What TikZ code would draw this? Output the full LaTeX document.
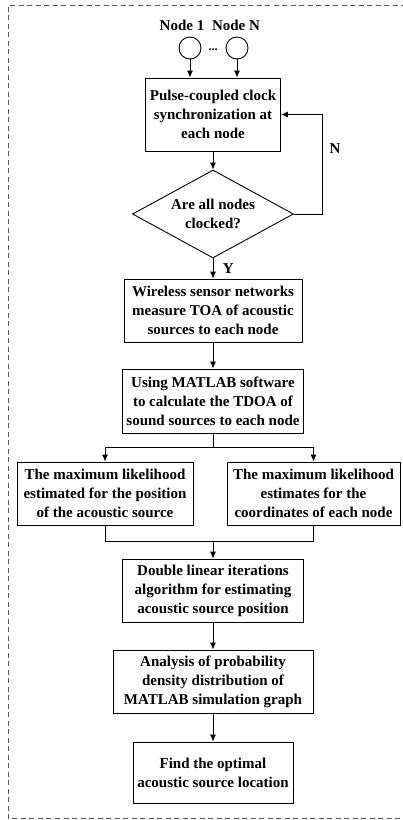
\documentclass[tikz,border=0pt]{standalone}
\usepackage{fontspec}
\setmainfont{Liberation Serif}
\usetikzlibrary{arrows,arrows.meta,shapes.geometric}
\tikzset{
    block/.style = {draw, rectangle, align=center, inner sep=2pt,
        minimum height=63pt},
    decision/.style = {draw, diamond, aspect=1.83, align=center, inner sep=0pt,
        minimum width=161pt, minimum height=88pt},
    sensor/.style = {draw, circle, minimum size=22pt, inner sep=0pt},
    input/.style = {coordinate},
    frame/.style = {draw=black!65, line width=0.8pt, dash pattern=on 5pt off 3.5pt}
}
\begin{document}
\begin{tikzpicture}[x=1pt, y=-1pt, >={Latex[length=7pt,width=6pt]}, line width=0.9pt,
    every node/.style={font=\fontsize{15}{19}\selectfont\bfseries}]
        \useasboundingbox (0,0) rectangle (403,820);
        \draw [frame] (440,5) -- (8,5) -- (8,818) -- (440,818);
        % sensor nodes on top
        \node [sensor] (sen1) at (190,48) {};
        \node [sensor] (senN) at (237,48) {};
        \node (lab1) at (182,25) {Node 1};
        \node (labN) at (236,25) {Node N};
        \node [anchor=base, font=\fontsize{12}{12}\selectfont\bfseries] (dots) at (213,50) {...};
        \node [block, minimum width=135pt, minimum height=73pt] (sync) at (213,114.5) {Pulse-coupled clock\\synchronization at\\each node};
        \foreach \s in {sen1,senN}{
            \draw [draw,->] (\s) -- (\s |- sync.north);
        }
        \node [decision, below of=sync, node distance=99.5pt] (check) {Are all nodes\\clocked?};
        \node [block, below of=check, node distance=96.5pt, minimum width=178pt] (toa) {Wireless sensor networks\\measure TOA of acoustic\\sources to each node};
        \node [block, below of=toa, node distance=90.5pt, minimum width=181pt, minimum height=64pt] (tdoa) {Using MATLAB software\\to calculate the TDOA of\\sound sources to each node};
        \draw [draw,->] (sync) -- (check);
        \draw [draw,->] (check.east) -- ++(28,0) |- node [pos=0.33, right, xshift=4pt] (no) {N} (sync.east);
        \draw [draw,->] (check) -- node [right, xshift=6pt] (yes) {Y} (toa);
        \draw [draw,->] (toa) -- (tdoa);
        % two estimates side by side
        \node [input, below of=tdoa, node distance=46pt] (split) {};
        \node [block, minimum width=176pt] (mlsrc) at (105,493.5) {The maximum likelihood\\estimated for the position\\of the acoustic source};
        \node [block, minimum width=173pt] (mlnode) at (313.5,493.5) {The maximum likelihood\\estimates for the\\coordinates of each node};
        \draw [draw] (tdoa) -- (split);
        \foreach \b in {mlsrc,mlnode}{
            \draw [draw,->] (split) -| (\b);
        }
        \node [input, below of=tdoa, node distance=140pt] (merge) {};
        \node [block, below of=tdoa, node distance=189.5pt, minimum width=181pt] (iter) {Double linear iterations\\algorithm for estimating\\acoustic source position};
        \foreach \b in {mlsrc,mlnode}{
            \draw [draw] (\b) |- (merge);
        }
        \draw [draw,->] (merge) -- (iter);
        \node [block, below of=iter, node distance=91pt, minimum width=200pt] (pdf) {Analysis of probability\\density distribution of\\MATLAB simulation graph};
        \node [block, below of=pdf, node distance=91pt, minimum width=160pt, minimum height=61pt] (opt) {Find the optimal\\acoustic source location};
        \draw [draw,->] (iter) -- (pdf);
        \draw [draw,->] (pdf) -- (opt);
\end{tikzpicture}
\end{document}
